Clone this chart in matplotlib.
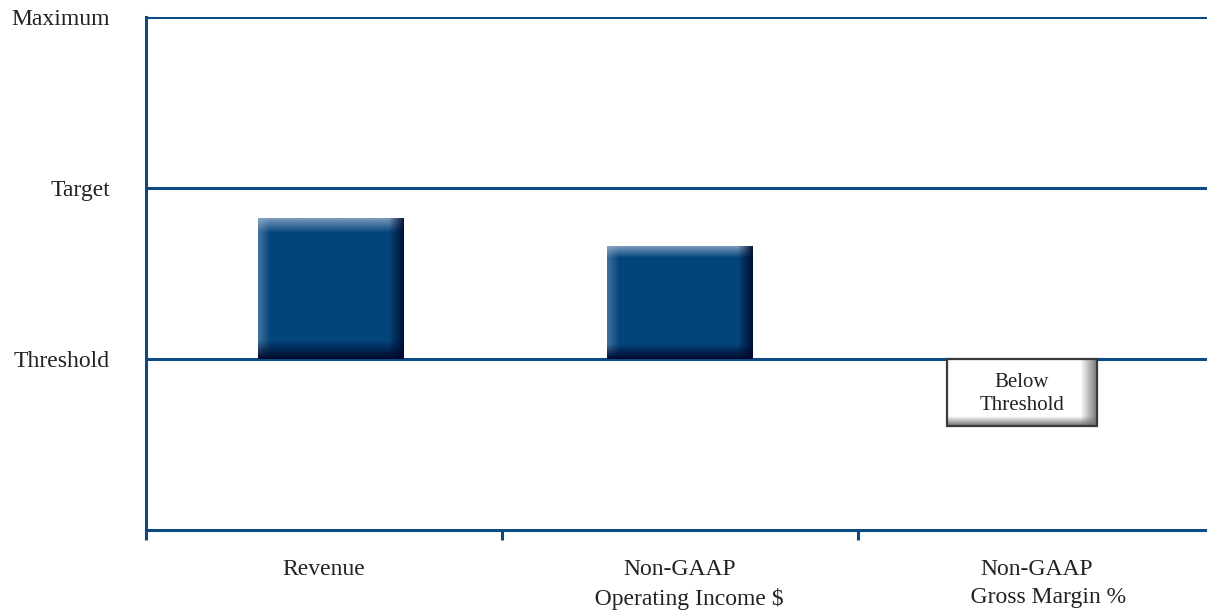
import numpy as np
import matplotlib.pyplot as plt
from matplotlib.patches import Rectangle
from matplotlib.colors import to_rgb

categories = ["Revenue", "Non-GAAP\n   Operating Income $", "Non-GAAP\n    Gross Margin %"]
levels = ["Threshold", "Target", "Maximum"]
level_values = [1, 2, 3]
# 0 = bottom of scale, 1 = threshold, 2 = target, 3 = maximum
results = [1.82, 1.66, 0.61]
below_label = "Below\nThreshold"

blue = "#03457a"
line_blue = "#0b4a82"
light = np.array(to_rgb("#9fb4d2"))
dark = np.array(to_rgb("#000a2e"))
centers = [0.52, 1.5, 2.46]
widths = [0.41, 0.41, 0.42]

plt.rcParams["font.family"] = ["Liberation Serif", "DejaVu Serif"]

fig = plt.figure(figsize=(12.07, 6.11), dpi=100)
ax = fig.add_axes([0.121, 0.1326, 0.885, 0.8396])


def bevel(ax, x0, x1, y0, y1, base, hi, lo, bands=(12, 14, 15, 18)):
    # bands: left, top, right, bottom in pixels (approx)
    h, w = 140, 150
    yy, xx = np.mgrid[0:h, 0:w]
    img = np.ones((h, w, 3)) * np.array(to_rgb(base))
    l = np.clip(1 - xx / bands[0], 0, 1)[..., None]
    t = np.clip(1 - yy / bands[1], 0, 1)[..., None]
    r = np.clip(1 - (w - 1 - xx) / bands[2], 0, 1)[..., None]
    b = np.clip(1 - (h - 1 - yy) / bands[3], 0, 1)[..., None]
    img = img * (1 - 0.4 * l) + hi * 0.4 * l
    img = img * (1 - 0.75 * t) + hi * 0.75 * t
    img = img * (1 - 0.9 * r) + lo * 0.9 * r
    img = img * (1 - b) + lo * b
    ax.imshow(img, extent=(x0, x1, y0, y1), aspect="auto",
              interpolation="bilinear", zorder=3, origin="upper")


for c, w, v in zip(centers, widths, results):
    x0, x1 = c - w / 2, c + w / 2
    if v >= 1:
        bevel(ax, x0, x1, 1, v, blue, light, dark)
    else:
        bevel(ax, x0, x1, v, 1, "#ffffff", np.array(to_rgb("#f4f4f4")),
              np.array(to_rgb("#6e6e6e")), bands=(6, 6, 16, 20))
        ax.add_patch(Rectangle((x0, v), w, 1 - v, fill=False,
                               edgecolor="#3a3a3a", lw=1.6, zorder=4))
        ax.text(c, (1 + v) / 2 - 0.01, below_label, ha="center", va="center",
                fontsize=15, color="#222222", linespacing=1.25, zorder=5)

for lv in level_values:
    ax.axhline(lv, color=line_blue, lw=2.2, zorder=2)

ax.set_xlim(0, 3)
ax.set_ylim(0, 3)

ax.set_yticks(level_values)
ax.set_yticklabels(levels, fontsize=17, color="#222222")
ax.tick_params(axis="y", length=0, pad=26)

ax.set_xticks([0, 1, 2, 3])
ax.set_xticklabels([])
ax.tick_params(axis="x", which="major", length=7, width=2.2, color=line_blue,
               direction="out")
ax.set_xticks([0.5, 1.5, 2.5], minor=True)
ax.set_xticklabels(categories, minor=True, fontsize=17, color="#222222",
                   linespacing=1.45)
ax.tick_params(axis="x", which="minor", length=0, pad=21)

for s in ["top", "right"]:
    ax.spines[s].set_visible(False)
for s in ["left", "bottom"]:
    ax.spines[s].set_color(line_blue)
    ax.spines[s].set_linewidth(2.2)

fig.savefig("out.png", dpi=100)
